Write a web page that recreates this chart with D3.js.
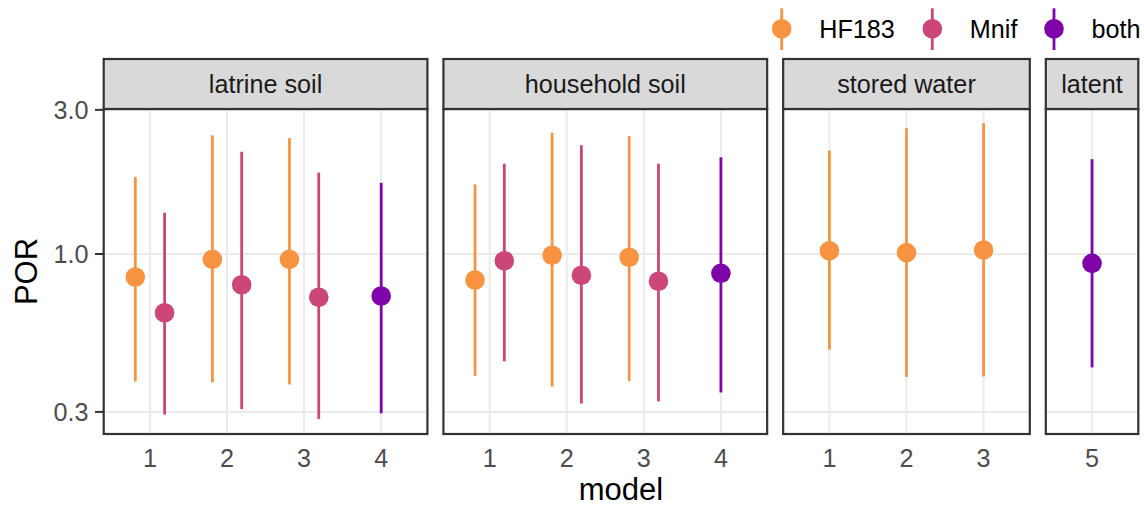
<!DOCTYPE html>
<html><head><meta charset="utf-8">
<script src="https://cdn.jsdelivr.net/npm/d3@7"></script>
<style>body{margin:0;background:#fff;} svg{display:block;font-family:"Liberation Sans",Arial,Helvetica,sans-serif;}</style>
</head><body><svg id="chart" width="1144" height="507"></svg>
<script>
// ---- data ----
const facets = ["latrine soil", "household soil", "stored water", "latent"];
const facetModels = [[1, 2, 3, 4], [1, 2, 3, 4], [1, 2, 3], [5]];
const markers = ["HF183", "Mnif", "both"];
const markerColors = ["#F89441", "#CC4778", "#7E03A8"];
const yTicks = [0.3, 1, 3];
const yTickLabels = ["0.3", "1.0", "3.0"];

const ptFacet  = ["latrine soil","latrine soil","latrine soil","latrine soil","latrine soil","latrine soil","latrine soil",
                  "household soil","household soil","household soil","household soil","household soil","household soil","household soil",
                  "stored water","stored water","stored water","latent"];
const ptModel  = [1,1,2,2,3,3,4, 1,1,2,2,3,3,4, 1,2,3, 5];
const ptMarker = ["HF183","Mnif","HF183","Mnif","HF183","Mnif","both",
                  "HF183","Mnif","HF183","Mnif","HF183","Mnif","both",
                  "HF183","HF183","HF183","both"];
const ptPOR    = [0.839,0.639,0.960,0.791,0.960,0.719,0.726, 0.820,0.950,0.990,0.850,0.975,0.812,0.863, 1.025,1.010,1.031, 0.931];
const ptLower  = [0.378,0.294,0.376,0.307,0.370,0.284,0.297, 0.395,0.441,0.364,0.320,0.380,0.325,0.348, 0.482,0.392,0.393, 0.421];
const ptUpper  = [1.80,1.37,2.47,2.18,2.42,1.86,1.72, 1.70,1.99,2.52,2.29,2.46,1.99,2.09, 2.20,2.61,2.71, 2.06];

// ---- layout ----
const svg = d3.select("#chart");
const L = 103.7, R = 1138.3, stripTop = 59, panelTop = 109, panelBottom = 434, gap = 16;
const fs = 25.2;
const domains = facetModels.map(m => [d3.min(m) - 0.6, d3.max(m) + 0.6]);
const totalUnits = d3.sum(domains, d => d[1] - d[0]);
const unit = (R - L - gap * (facets.length - 1)) / totalUnits;

const y = d3.scaleLog().domain([0.2535, 3.02]).range([panelBottom, panelTop]);
const color = d3.scaleOrdinal().domain(markers).range(markerColors);

let cursor = L;
const xScales = {};
facets.forEach((f, i) => {
  const w = (domains[i][1] - domains[i][0]) * unit;
  xScales[f] = d3.scaleLinear().domain(domains[i]).range([cursor, cursor + w]);
  cursor += w + gap;
});

const points = ptFacet.map((f, i) => ({facet: f, model: ptModel[i], marker: ptMarker[i], por: ptPOR[i], lo: ptLower[i], hi: ptUpper[i]}));
const dodgeW = 0.38;
points.forEach(p => {
  const sib = points.filter(q => q.facet === p.facet && q.model === p.model)
    .sort((a, b) => markers.indexOf(a.marker) - markers.indexOf(b.marker));
  const idx = sib.indexOf(p);
  p.xv = p.model + (idx - (sib.length - 1) / 2) * dodgeW;
});

facets.forEach((f, i) => {
  const x = xScales[f];
  const [x0, x1] = x.range();
  const g = svg.append("g");
  g.append("rect").attr("x", x0).attr("y", panelTop).attr("width", x1 - x0).attr("height", panelBottom - panelTop).attr("fill", "#fff");
  g.selectAll(".gy").data(yTicks).join("line")
    .attr("x1", x0).attr("x2", x1).attr("y1", d => y(d)).attr("y2", d => y(d))
    .attr("stroke", "#EBEBEB").attr("stroke-width", 2);
  g.selectAll(".gx").data(facetModels[i]).join("line")
    .attr("x1", d => x(d)).attr("x2", d => x(d)).attr("y1", panelTop).attr("y2", panelBottom)
    .attr("stroke", "#EBEBEB").attr("stroke-width", 2);
  const pts = points.filter(p => p.facet === f);
  g.selectAll(".eb").data(pts).join("line")
    .attr("x1", d => x(d.xv)).attr("x2", d => x(d.xv))
    .attr("y1", d => y(d.lo)).attr("y2", d => y(d.hi))
    .attr("stroke", d => color(d.marker)).attr("stroke-width", 2.8);
  g.selectAll(".pt").data(pts).join("circle")
    .attr("cx", d => x(d.xv)).attr("cy", d => y(d.por)).attr("r", 9.8)
    .attr("fill", d => color(d.marker));
  g.append("rect").attr("x", x0).attr("y", panelTop).attr("width", x1 - x0).attr("height", panelBottom - panelTop)
    .attr("fill", "none").attr("stroke", "#333333").attr("stroke-width", 2.2);
  g.append("rect").attr("x", x0).attr("y", stripTop).attr("width", x1 - x0).attr("height", panelTop - stripTop)
    .attr("fill", "#D9D9D9").attr("stroke", "#333333").attr("stroke-width", 2.2);
  g.append("text").attr("x", (x0 + x1) / 2).attr("y", 93).attr("text-anchor", "middle")
    .attr("font-size", fs).attr("fill", "#1A1A1A").text(f);
  g.selectAll(".xl").data(facetModels[i]).join("text")
    .attr("x", d => x(d)).attr("y", 467).attr("text-anchor", "middle")
    .attr("font-size", fs).attr("fill", "#4D4D4D").text(d => d);
});

// y axis
const ya = svg.append("g");
ya.selectAll("line").data(yTicks).join("line")
  .attr("x1", 95).attr("x2", L).attr("y1", d => y(d)).attr("y2", d => y(d))
  .attr("stroke", "#333333").attr("stroke-width", 2);
ya.selectAll("text").data(yTicks).join("text")
  .attr("x", 88.5).attr("y", d => y(d) + 9).attr("text-anchor", "end")
  .attr("font-size", fs).attr("fill", "#4D4D4D").text((d, i) => yTickLabels[i]);

// axis titles
svg.append("text").attr("transform", `translate(37,${(panelTop + panelBottom) / 2}) rotate(-90)`)
  .attr("text-anchor", "middle").attr("font-size", 31).attr("fill", "#000").text("POR");
svg.append("text").attr("x", (L + R) / 2).attr("y", 500).attr("text-anchor", "middle")
  .attr("font-size", 31).attr("fill", "#000").text("model");

// legend
const legX = [781.7, 932.3, 1054];
const lg = svg.append("g");
markers.forEach((m, i) => {
  lg.append("line").attr("x1", legX[i]).attr("x2", legX[i]).attr("y1", 8.3).attr("y2", 50)
    .attr("stroke", color(m)).attr("stroke-width", 2.8);
  lg.append("circle").attr("cx", legX[i]).attr("cy", 28.7).attr("r", 9.8).attr("fill", color(m));
  lg.append("text").attr("x", legX[i] + 37.5).attr("y", 37.7).attr("font-size", fs).attr("fill", "#000").text(m);
});
</script>
</body></html>
